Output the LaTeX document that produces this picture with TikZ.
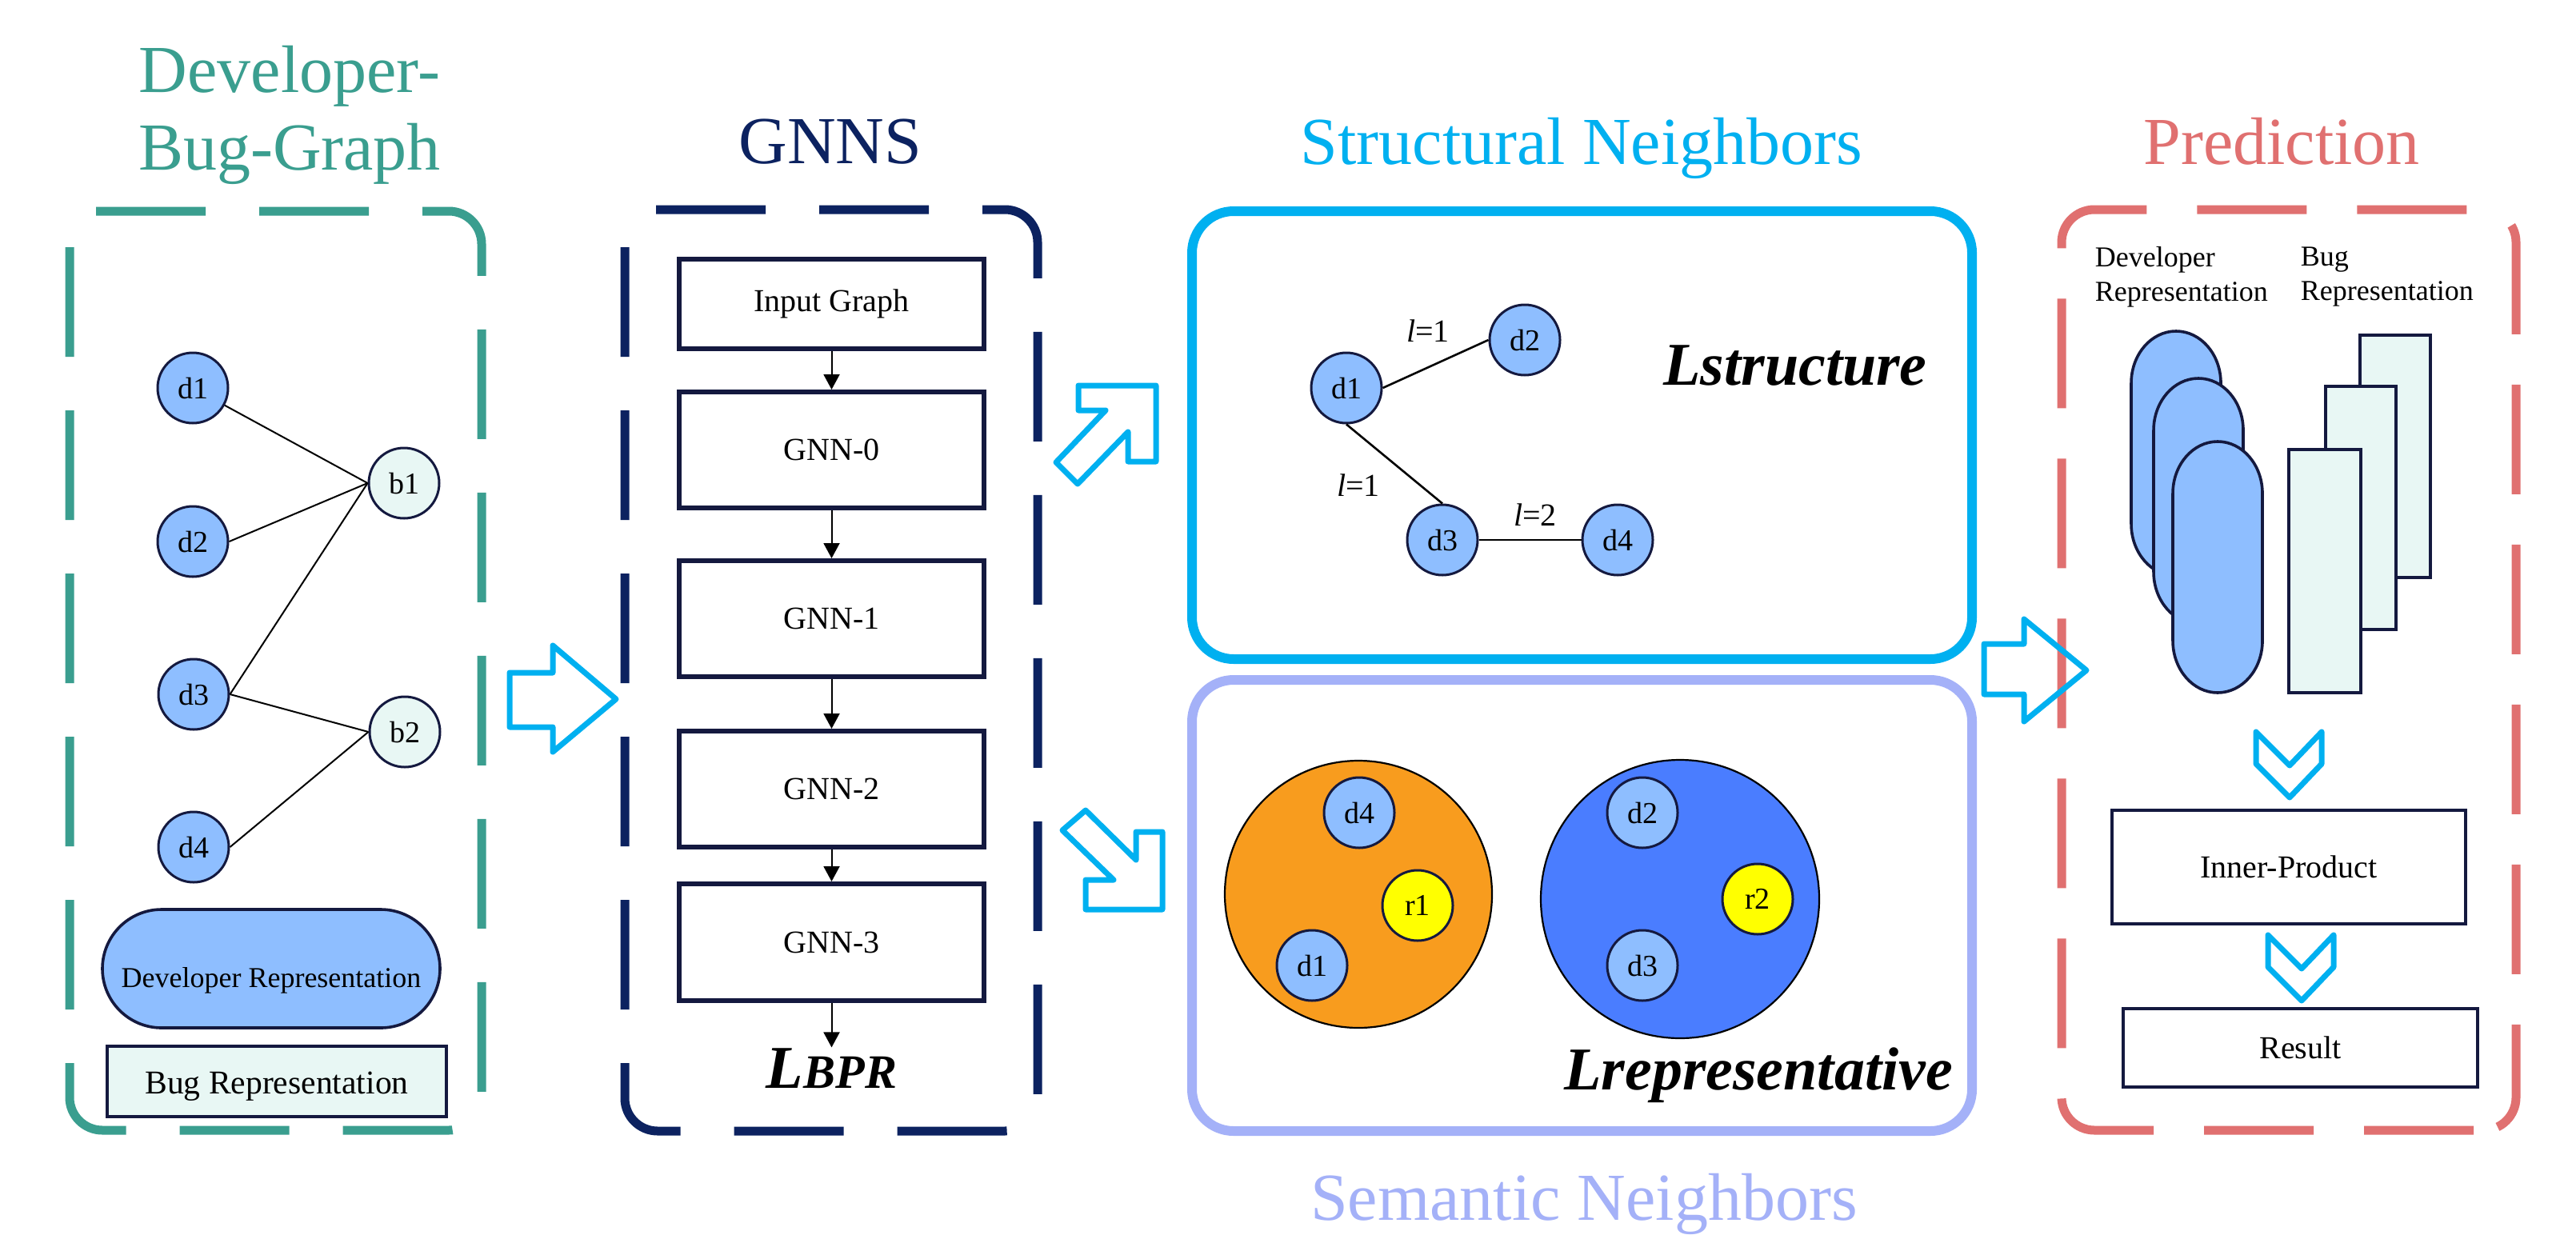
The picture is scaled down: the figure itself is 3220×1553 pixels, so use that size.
\documentclass[tikz,border=0pt]{standalone}
\usepackage{fontspec}
\setmainfont{Liberation Serif}
\usetikzlibrary{arrows.meta}
\definecolor{cgreen}{HTML}{3A9E8F}
\definecolor{cnavy}{HTML}{0C2260}
\definecolor{ccyan}{HTML}{00B0F0}
\definecolor{clav}{HTML}{A4B1F8}
\definecolor{cpink}{HTML}{E07070}
\definecolor{cnode}{HTML}{8EBEFF}
\definecolor{cline}{HTML}{14193F}
\definecolor{cmint}{HTML}{E8F7F4}
\definecolor{corange}{HTML}{F89C1E}
\definecolor{cblue}{HTML}{4A7DFF}
\definecolor{cyellow}{HTML}{FFFF00}
\begin{document}
\begin{tikzpicture}[x=0.25pt,y=-0.25pt,
  title/.style={font=\fontsize{21}{24.25}\selectfont, inner sep=0pt, align=center},
  dnode/.style={circle, draw=cline, line width=0.75pt, fill=cnode, minimum size=22pt, inner sep=0pt, font=\fontsize{9.5}{11}\selectfont},
  bnode/.style={dnode, fill=cmint},
  rnode/.style={dnode, fill=cyellow},
  gnnbox/.style={draw=cline, line width=1.5pt, fill=white, minimum width=95.25pt, font=\fontsize{10}{12}\selectfont, inner sep=0pt},
  dashbox/.style={line width=2.75pt, dash pattern=on 34.25pt off 16.75pt, rounded corners=10.25pt},
  hollow/.style={draw=ccyan, line width=1.75pt, line join=round},
  edge/.style={line width=0.5pt, black},
  sedge/.style={line width=0.65pt, black},
  flow/.style={-{Triangle[length=4.75pt,width=5pt]}, line width=0.5pt, black},
  loss/.style={font=\fontsize{19}{22}\selectfont\bfseries\itshape, anchor=base, inner sep=0pt},
  lbl/.style={font=\fontsize{10}{12}\selectfont, inner sep=0pt},
  cylst/.style={draw=cline, line width=0.9pt, fill=cnode},
  brect/.style={draw=cline, line width=0.9pt, fill=cmint},
  pbox/.style={draw=cline, line width=1pt, fill=white, inner sep=0pt, font=\fontsize{10}{12}\selectfont},
  plabel/.style={font=\fontsize{9}{10.75}\selectfont, inner sep=0pt, align=left, anchor=north west},
]
\useasboundingbox[fill=white] (0,0) rectangle (3220,1553);

% ---------------- titles ----------------
\node[title, text=cgreen, anchor=north] (t1) at (362,56) {Developer-\\Bug-Graph};
\node[title, text=cnavy, anchor=base] (t2) at (1038,204) {GNNS};
\node[title, text=ccyan, anchor=base] (t3) at (1977,205) {Structural Neighbors};
\node[title, text=cpink, anchor=base] (t4) at (2852,205) {Prediction};
\node[title, text=clav, anchor=base] (t5) at (1980,1525) {Semantic Neighbors};

% ---------------- dashed panels ----------------
\draw[dashbox, cgreen] (87,309) -- (87,1413) -- (602,1413) -- (602,264) -- (120,264);
\draw[dashbox, cnavy] (781,309) -- (781,1414) -- (1297,1414) -- (1297,262) -- (812,262);
\draw[dashbox, cpink, dash pattern=on 34.25pt off 15.75pt] (3092,1413) -- (2577,1413) -- (2577,262) -- (3145,262) -- (3145,1413) -- (3092,1413);

% ---------------- solid panels ----------------
\draw[ccyan, line width=3pt, rounded corners=13pt] (1490,264) rectangle (2465,824);
\draw[clav, line width=3pt, rounded corners=13pt] (1490,850) rectangle (2465,1414);

% ---------------- Developer-Bug-Graph ----------------
\node[dnode] (ld1) at (241,485) {d1};
\node[dnode] (ld2) at (241,677) {d2};
\node[dnode] (ld3) at (242,868) {d3};
\node[dnode] (ld4) at (242,1059) {d4};
\node[bnode] (lb1) at (505,604) {b1};
\node[bnode] (lb2) at (506,915) {b2};
\draw[edge] (ld1) -- (lb1.west);
\draw[edge] (ld2.east) -- (lb1.west);
\draw[edge] (ld3.east) -- (lb1.west);
\draw[edge] (ld3.east) -- (lb2.west);
\draw[edge] (ld4.east) -- (lb2.west);
\node[draw=cline, line width=0.9pt, fill=cnode, rounded corners=18.5pt, minimum width=105.5pt, minimum height=37pt, inner sep=0pt, text height=11.5pt, text depth=0pt, font=\fontsize{9}{11}\selectfont] (drep) at (339,1211) {Developer Representation};
\node[draw=cline, line width=0.9pt, fill=cmint, minimum width=106pt, minimum height=22pt, inner sep=0pt, text height=7.5pt, text depth=0pt, font=\fontsize{10.4}{12}\selectfont] (brep) at (346,1352) {Bug Representation};

% ---------------- GNNS ----------------
\node[gnnbox, minimum height=28pt] (ig) at (1039.5,380) {Input Graph};
\node[gnnbox, minimum height=36.25pt] (g0) at (1039.5,562.5) {GNN-0};
\node[gnnbox, minimum height=36.25pt] (g1) at (1039.5,773.5) {GNN-1};
\node[gnnbox, minimum height=36.25pt] (g2) at (1039.5,986.5) {GNN-2};
\node[gnnbox, minimum height=36.5pt] (g3) at (1039.5,1178) {GNN-3};
\node[loss] (lbpr) at (1039.5,1360) {L\fontsize{15}{18}\selectfont BPR};
\draw[flow] (ig) -- (g0);
\draw[flow] (g0) -- (g1);
\draw[flow] (g1) -- (g2);
\draw[flow] (g2) -- (g3);
\draw[flow] (g3) -- (lbpr.north);

% ---------------- hollow arrows ----------------
\draw[hollow] (637,841) -- (691,841) -- (691,807) -- (770,874) -- (691,940) -- (691,909) -- (637,909) -- cycle;
\draw[hollow] (1348,482) -- (1445,482) -- (1445,577) -- (1410,577) -- (1410,540) -- (1347,605) -- (1320,578) -- (1382,513) -- (1348,513) -- cycle;
\draw[hollow] (1357,1013) -- (1328,1038) -- (1392,1100) -- (1357,1100) -- (1357,1137) -- (1453,1137) -- (1453,1040) -- (1420,1040) -- (1420,1075) -- cycle;
\draw[hollow] (2480,805) -- (2530,805) -- (2530,774) -- (2608,838) -- (2530,902) -- (2530,868) -- (2480,868) -- cycle;
\draw[hollow] (2820,915) -- (2820,955) -- (2862,997) -- (2902,955) -- (2902,915) -- (2862,957) -- cycle;
\draw[hollow] (2835,1169) -- (2835,1209) -- (2877,1251) -- (2917,1209) -- (2917,1169) -- (2877,1211) -- cycle;

% ---------------- Structural Neighbors ----------------
\node[dnode] (sd1) at (1683,485) {d1};
\node[dnode] (sd2) at (1906,425) {d2};
\node[dnode] (sd3) at (1803,675) {d3};
\node[dnode] (sd4) at (2022,675) {d4};
\draw[sedge] (sd1.east) -- (sd2.west);
\draw[sedge] (sd1.south) -- (sd3.north);
\draw[sedge] (sd3.east) -- (sd4.west);
\node[lbl] (l12) at (1785,414) {\textit{l}=1};
\node[lbl] (l13) at (1698,607) {\textit{l}=1};
\node[lbl] (l34) at (1919,644) {\textit{l}=2};
\node[loss] (lstr) at (2244,481) {Lstructure};

% ---------------- Semantic Neighbors ----------------
\node[circle, draw=black, line width=0.55pt, fill=corange, minimum size=83.5pt, inner sep=0pt] (og) at (1698,1118) {};
\node[circle, draw=black, line width=0.55pt, fill=cblue, minimum size=87pt, inner sep=0pt] (bg) at (2100,1124) {};
\node[dnode] (ed4) at (1699,1016) {d4};
\node[rnode] (er1) at (1772,1132) {r1};
\node[dnode] (ed1) at (1640,1207) {d1};
\node[dnode] (ed2) at (2053,1016) {d2};
\node[rnode] (er2) at (2197,1124) {r2};
\node[dnode] (ed3) at (2053,1207) {d3};
\node[loss] (lrep) at (2198,1362) {Lrepresentative};

% ---------------- Prediction ----------------
\node[plabel] (pdl) at (2618,308) {Developer\\Representation};
\node[plabel] (pbl) at (2875,308) {Bug\\Representation};
\draw[cylst] (2664,479) -- (2664,655) arc[start angle=180,end angle=360,x radius=14pt,y radius=16.25pt] -- (2776,479) arc[start angle=0,end angle=180,x radius=14pt,y radius=16.25pt] -- cycle;
\draw[cylst] (2692,538) -- (2692,715) arc[start angle=180,end angle=360,x radius=14pt,y radius=16.25pt] -- (2804,538) arc[start angle=0,end angle=180,x radius=14pt,y radius=16.25pt] -- cycle;
\draw[cylst] (2716,617) -- (2716,801) arc[start angle=180,end angle=360,x radius=14pt,y radius=16.25pt] -- (2828,617) arc[start angle=0,end angle=180,x radius=14pt,y radius=16.25pt] -- cycle;
\draw[brect] (2950,419) rectangle (3038,722);
\draw[brect] (2907,483) rectangle (2995,787);
\draw[brect] (2861,562) rectangle (2951,866);
\node[pbox, minimum width=110.5pt, minimum height=35.5pt] (ip) at (2861,1084) {Inner-Product};
\node[pbox, minimum width=110.75pt, minimum height=24.5pt] (res) at (2875.5,1310) {Result};
\end{tikzpicture}
\end{document}
